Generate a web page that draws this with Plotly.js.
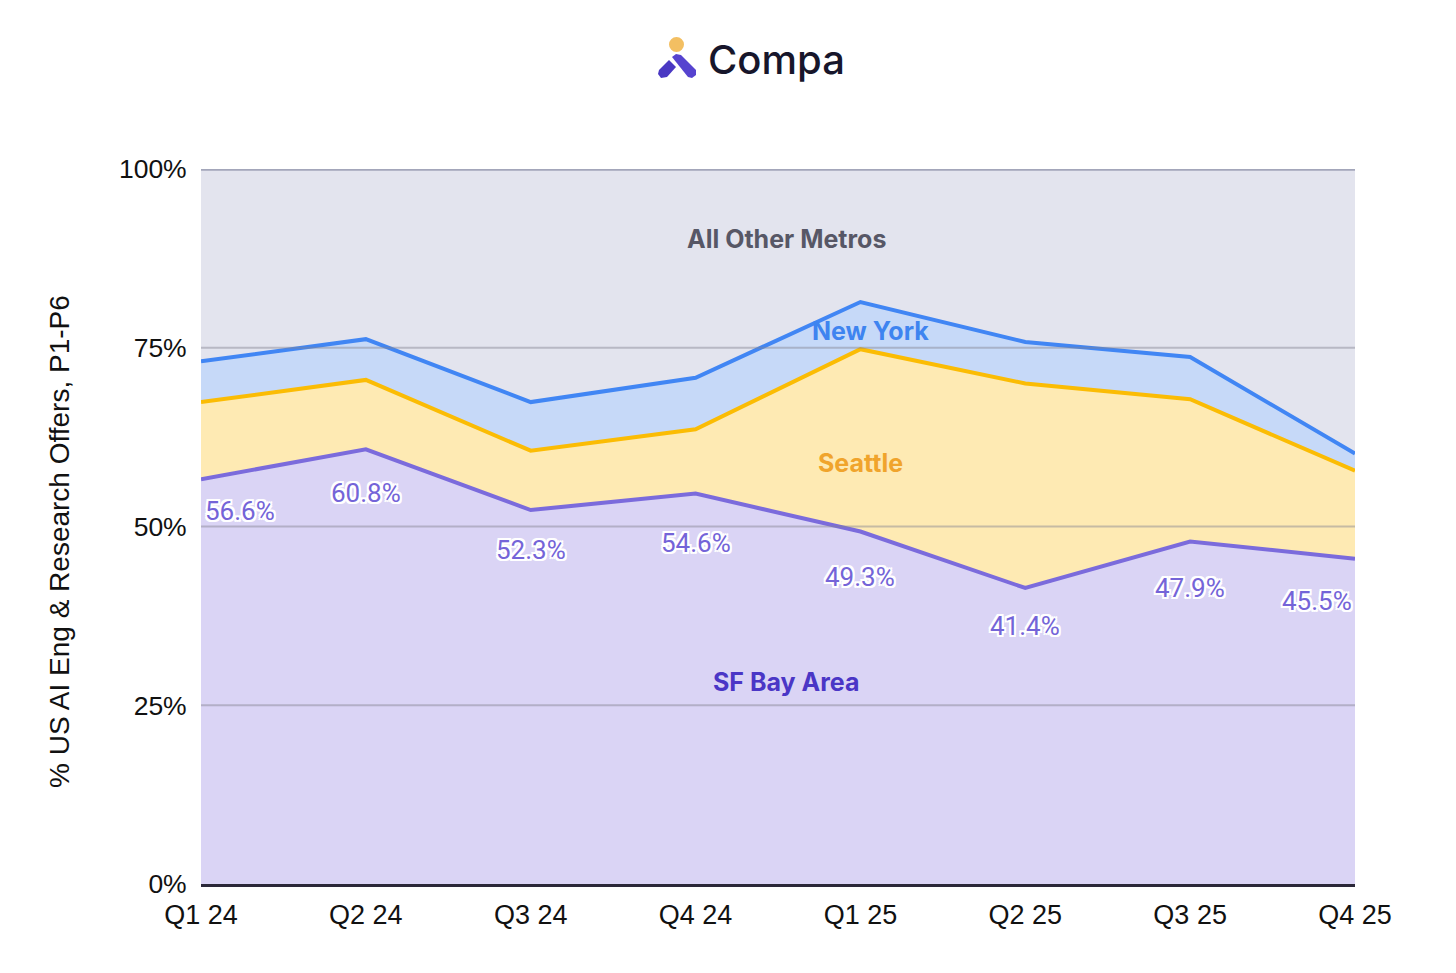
<!DOCTYPE html>
<html>
<head>
<meta charset="utf-8">
<script src="https://cdn.plot.ly/plotly-3.0.1.min.js"></script>
<style>html,body{margin:0;padding:0;background:#fff;}#chart{width:1456px;height:973px;}</style>
</head>
<body>
<div id="chart"></div>
<script>
// ---- data ----
var quarters = ["Q1 24","Q2 24","Q3 24","Q4 24","Q1 25","Q2 25","Q3 25","Q4 25"];
var sfBayArea = [56.6, 60.8, 52.3, 54.6, 49.3, 41.4, 47.9, 45.5];
var seattle   = [10.8, 9.7, 8.3, 9.0, 25.5, 28.6, 19.9, 12.3];
var newYork   = [5.7, 5.7, 6.8, 7.2, 6.6, 5.8, 5.9, 2.4];
var otherMetros = [26.9, 23.8, 32.6, 29.2, 18.6, 24.2, 26.3, 39.8];
var yTicks = [0, 25, 50, 75, 100];
var sfLabels = sfBayArea.map(function(v){ return v.toFixed(1) + "%"; });

// ---- layout helpers (pixel -> paper) ----
var L = 201, R = 1355, T = 169, B = 884;
var labelDrop = [32, 44, 40, 49, 45, 38, 46, 42]; // pixel offset of value labels below the line
function px(x){ return (x - L) / (R - L); }
function py(y){ return (B - y) / (B - T); }
function path(points){
  return points.map(function(p,i){ return (i? "L":"M") + px(p[0]).toFixed(5) + "," + py(p[1]).toFixed(5); }).join(" ") + " Z";
}

var traces = [
  {name:"SF Bay Area", x:quarters, y:sfBayArea, type:"scatter", mode:"lines", stackgroup:"one",
   line:{color:"#7b6bdc", width:4}, fillcolor:"#dad4f5"},
  {name:"Seattle", x:quarters, y:seattle, type:"scatter", mode:"lines", stackgroup:"one",
   line:{color:"#fbbc04", width:4}, fillcolor:"#feeab3"},
  {name:"New York", x:quarters, y:newYork, type:"scatter", mode:"lines", stackgroup:"one",
   line:{color:"#4186f4", width:4}, fillcolor:"#c6d9f8"},
  {name:"All Other Metros", x:quarters, y:otherMetros, type:"scatter", mode:"lines", stackgroup:"one",
   line:{color:"#a3a6ba", width:3}, fillcolor:"#e3e4ee"}
];

var annotations = [];
var outline = "-2px -2px 0 #fff, 2px -2px 0 #fff, -2px 2px 0 #fff, 2px 2px 0 #fff, 0 2px 0 #fff, 0 -2px 0 #fff, 2px 0 0 #fff, -2px 0 0 #fff";
sfBayArea.forEach(function(v, i){
  var anchor = i === 0 ? "left" : (i === quarters.length - 1 ? "right" : "center");
  annotations.push({x:quarters[i], y:v, xref:"x", yref:"y", text:sfLabels[i], showarrow:false,
    xanchor:anchor, yanchor:"middle", yshift:-labelDrop[i], xshift: i===0 ? 2 : (i===quarters.length-1 ? -1 : 0),
    font:{family:"Roboto, sans-serif", size:26, color:"#7464d8", shadow:outline}});
});
var seriesLabels = [
  {text:"All Other Metros", x:px(786), y:py(239), color:"#575766"},
  {text:"New York", x:px(870), y:py(331), color:"#3e84f0"},
  {text:"Seattle", x:px(861), y:py(463), color:"#f0a42c"},
  {text:"SF Bay Area", x:px(786), y:py(682), color:"#4a36c6"}
];
seriesLabels.forEach(function(s){
  annotations.push({x:s.x, y:s.y, xref:"paper", yref:"paper", text:s.text, showarrow:false,
    xanchor:"center", yanchor:"middle",
    font:{family:"Inter, Lato, sans-serif", size:25, weight:700, color:s.color}});
});
annotations.push({x:px(59), y:py(542), xref:"paper", yref:"paper", text:"% US AI Eng & Research Offers, P1-P6",
  showarrow:false, textangle:-90, xanchor:"center", yanchor:"middle",
  font:{family:"Liberation Sans, Arial, sans-serif", size:28, color:"#111"}});
annotations.push({x:px(706), y:py(59), xref:"paper", yref:"paper", text:"Compa", showarrow:false,
  xanchor:"left", yanchor:"middle",
  font:{family:"Inter, sans-serif", size:40, weight:500, color:"#17162b"}});

var shapes = [];
[25, 50, 75].forEach(function(g){
  shapes.push({type:"line", xref:"paper", yref:"y", x0:0, x1:1, y0:g, y1:g, layer:"above",
    line:{color:"rgba(130,130,145,0.45)", width:2}});
});
shapes.push({type:"line", xref:"paper", yref:"y", x0:0, x1:1, y0:100, y1:100, layer:"above",
  line:{color:"#a3a6ba", width:3}});
// logo
shapes.push({type:"circle", xref:"paper", yref:"paper", x0:px(669), x1:px(684), y0:py(37), y1:py(52),
  fillcolor:"#f3bf62", line:{width:0}, layer:"above"});
shapes.push({type:"path", xref:"paper", yref:"paper", layer:"above", fillcolor:"#4a38c3", line:{width:0},
  path:path([[669,60],[676,67],[667,77],[661,78],[658,74],[659,70]])});
shapes.push({type:"path", xref:"paper", yref:"paper", layer:"above", fillcolor:"#5643cf", line:{width:0},
  path:path([[672,57],[676,54],[681,55],[696,70],[696,75],[692,78],[688,77]])});

var layout = {
  width:1456, height:973,
  margin:{l:L, r:1456-R, t:T, b:973-B, pad:0},
  paper_bgcolor:"#ffffff", plot_bgcolor:"#ffffff",
  showlegend:false,
  xaxis:{type:"category", range:[0, quarters.length-1], showgrid:false, zeroline:false,
    showline:true, linecolor:"#2b2839", linewidth:3, layer:"above traces",
    ticks:"outside", ticklen:5, tickcolor:"rgba(0,0,0,0)",
    tickfont:{family:"Liberation Sans, Arial, sans-serif", size:27, color:"#111"}},
  yaxis:{range:[0,100], tickvals:yTicks, ticktext:yTicks.map(function(v){return v+"%";}),
    showgrid:false, zeroline:false, showline:false,
    ticks:"outside", ticklen:8, tickcolor:"rgba(0,0,0,0)",
    tickfont:{family:"Liberation Sans, Arial, sans-serif", size:26.5, color:"#111"}},
  annotations:annotations,
  shapes:shapes
};

Plotly.newPlot("chart", traces, layout, {displayModeBar:false, staticPlot:true});
</script>
</body>
</html>
